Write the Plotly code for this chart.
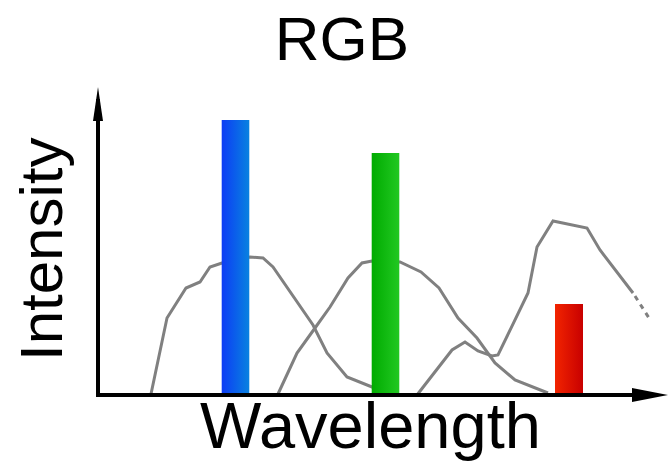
import plotly.graph_objects as go

# ---- data (arbitrary wavelength / intensity units) ----
blue_curve_x = [53, 69, 88, 102, 112, 124, 152, 165, 175, 192, 215, 229, 249, 274, 282]
blue_curve_y = [1, 77, 107, 113, 128, 132, 138, 137, 128, 103, 70, 42, 18, 8, 6]

green_curve_x = [180, 199, 217, 232, 250, 264, 274, 302, 323, 341, 360, 379, 397, 417, 450]
green_curve_y = [1, 42, 67, 88, 117, 132, 134, 133, 123, 107, 77, 57, 32, 15, 2]

red_curve_x = [319, 354, 367, 380, 394, 400, 430, 439, 455, 469, 489, 502, 535]
red_curve_y = [0, 45, 53, 44, 39, 40, 102, 148, 174, 171, 167, 145, 102]
red_tail_x = [537, 551]
red_tail_y = [99, 77]

bar_names = ["Blue", "Green", "Red"]
bar_centers = [137.5, 287.5, 471]
bar_widths = [27.6, 27.6, 28]
bar_heights = [275, 242, 91]
bar_left_colors = ["#0d3cf5", "#00ab00", "#f22400"]
bar_right_colors = ["#0882e0", "#22c822", "#c80000"]

X_MAX = 570
Y_MAX = 308

FONT = "Liberation Sans, Arial, Helvetica, sans-serif"
CURVE_COLOR = "#808080"

fig = go.Figure()

for cx, cy in [(blue_curve_x, blue_curve_y), (green_curve_x, green_curve_y), (red_curve_x, red_curve_y)]:
    fig.add_trace(go.Scatter(x=cx, y=cy, mode="lines",
                             line=dict(color=CURVE_COLOR, width=3),
                             hoverinfo="skip", showlegend=False))
fig.add_trace(go.Scatter(x=red_tail_x, y=red_tail_y, mode="lines",
                         line=dict(color=CURVE_COLOR, width=3, dash="5px,5px"),
                         hoverinfo="skip", showlegend=False))

for name, c, w, h, cl, cr in zip(bar_names, bar_centers, bar_widths, bar_heights,
                                 bar_left_colors, bar_right_colors):
    x0, x1 = c - w / 2, c + w / 2
    fig.add_trace(go.Scatter(
        x=[x0, x1, x1, x0, x0], y=[0, 0, h, h, 0],
        mode="lines", fill="toself", line=dict(width=0),
        fillgradient=dict(type="horizontal", colorscale=[[0, cl], [1, cr]]),
        name=name, hoverinfo="name", showlegend=False))

shapes = [
    dict(type="line", xref="x", yref="y", x0=-2, y0=0, x1=X_MAX - 12, y1=0,
         line=dict(color="black", width=4)),
    dict(type="line", xref="x", yref="y", x0=0, y0=-2, x1=0, y1=Y_MAX - 12,
         line=dict(color="black", width=4)),
    dict(type="path", xref="x", yref="y", xsizemode="pixel", ysizemode="pixel",
         xanchor=X_MAX, yanchor=0, path="M0,0 L-36,7 L-36,-7 Z",
         fillcolor="black", line=dict(width=0)),
    dict(type="path", xref="x", yref="y", xsizemode="pixel", ysizemode="pixel",
         xanchor=0, yanchor=Y_MAX, path="M0,0 L5,-34 L-5,-34 Z",
         fillcolor="black", line=dict(width=0)),
]

annotations = [
    dict(text="Wavelength", xref="x", yref="y", x=272.5, y=-30.5,
         xanchor="center", yanchor="middle", showarrow=False,
         font=dict(family=FONT, size=65, color="black")),
    dict(text="Intensity", xref="x", yref="y", x=-57, y=145,
         xanchor="center", yanchor="middle", showarrow=False, textangle=-90,
         font=dict(family=FONT, size=60, color="black")),
]

fig.update_layout(
    width=669, height=465,
    margin=dict(l=0, r=0, t=0, b=0),
    paper_bgcolor="white", plot_bgcolor="white",
    title=dict(text="RGB", x=342 / 669, xref="container", xanchor="center",
               y=1 - 38 / 465, yref="container", yanchor="middle",
               font=dict(family=FONT, size=62, color="black")),
    xaxis=dict(range=[-98, 571], visible=False, fixedrange=True),
    yaxis=dict(range=[-70, 395], visible=False, fixedrange=True),
    shapes=shapes, annotations=annotations, showlegend=False,
)

fig.write_html("out.html", config={"displayModeBar": False},
               post_script="document.body.style.margin='0';")
